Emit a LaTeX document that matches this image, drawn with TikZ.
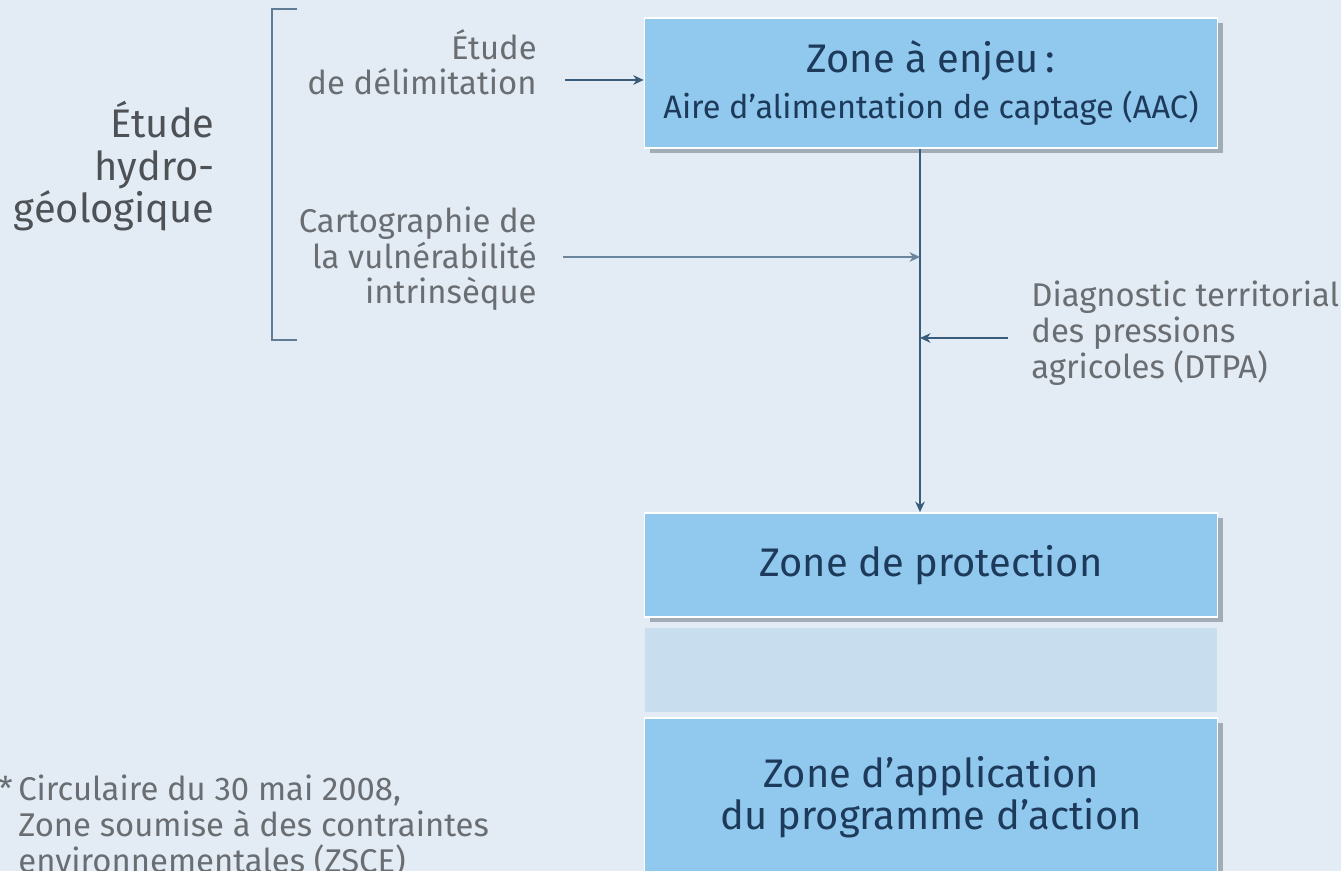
\documentclass[tikz,border=0pt]{standalone}
\usepackage{fontspec}
\setmainfont{Fira Sans}
\usetikzlibrary{arrows.meta,shadows}
\definecolor{fond}{HTML}{E3ECF4}
\definecolor{bleu}{HTML}{90C8EE}
\definecolor{bande}{HTML}{C8DEEF}
\definecolor{ombre}{HTML}{A2ACB4}
\definecolor{encre}{HTML}{1E3A5A}
\definecolor{trait}{HTML}{3A5C7C}
\definecolor{gris}{HTML}{6A6E72}
\definecolor{fonce}{HTML}{4E5256}
\begin{document}
\begin{tikzpicture}[x=0.02cm,y=-0.02cm,
    zone/.style={draw=white,line width=1pt,fill=bleu,text=encre,minimum width=11.46cm,align=center,
      font=\fontsize{22.7}{23.8}\selectfont,
      drop shadow={shadow xshift=3.2pt,shadow yshift=-3pt,fill=ombre,opacity=1}},
    legende/.style={text=gris,inner sep=0pt,font=\fontsize{18.7}{20.4}\selectfont},
    fleche/.style={draw=trait,line width=0.8pt,-{Stealth[length=6pt,width=5.5pt]}}]
  \fill[fond] (0,0) rectangle (1341,871);
  \useasboundingbox (0,0) rectangle (1341,871);
  % colonne de droite
  \node[fill=bande,minimum width=11.46cm,minimum height=1.7cm,inner sep=0pt] (bande) at (931,670) {};
  \node[zone,minimum height=2.6cm] (aac) at (931,83)
    {Zone à enjeu\,:\\[2pt]{\fontsize{18.5}{20}\selectfont Aire d’alimentation de captage (AAC)}};
  \node[zone,minimum height=2.08cm] (proto) at (931,565) {Zone de protection};
  \node[zone,minimum height=3.16cm] (action) at (931,797) {Zone d’application\\du programme d’action};
  % textes (base = derniere ligne)
  \node[legende,align=right,anchor=base east,text=fonce,font=\fontsize{22.7}{24.4}\selectfont] (hydro) at (215,223)
    {Étude\\hydro-\\géologique};
  \node[legende,align=right,anchor=base east] (delim) at (537,95) {Étude\\de délimitation};
  \node[legende,align=right,anchor=base east] (carto) at (537,304) {Cartographie de\\la vulnérabilité\\intrinsèque};
  \node[legende,align=left,anchor=base west] (dtpa) at (1031,378) {Diagnostic territorial\\des pressions\\agricoles (DTPA)};
  \node[legende,align=left,anchor=base west] (note) at (18,872)
    {\llap{*\,}Circulaire du 30 mai 2008,\\Zone soumise à des contraintes\\environnementales (ZSCE)};
  % crochet et fleches
  \draw[draw=trait!80,line width=1.1pt] (297,9) -- (272,9) -- (272,340) -- (297,340);
  \coordinate (axe) at (920,0);
  \coordinate (d0) at (565,80);
  \coordinate (c0) at (563,257);
  \coordinate (p0) at (1008,338);
  \draw[fleche,line width=1.2pt] (aac.south -| axe) -- (proto.north -| axe);
  \draw[fleche] (d0) -- (d0 -| aac.west);
  \draw[fleche,draw=trait!75] (c0) -- (c0 -| axe);
  \draw[fleche] (p0) -- (p0 -| axe);
\end{tikzpicture}
\end{document}
